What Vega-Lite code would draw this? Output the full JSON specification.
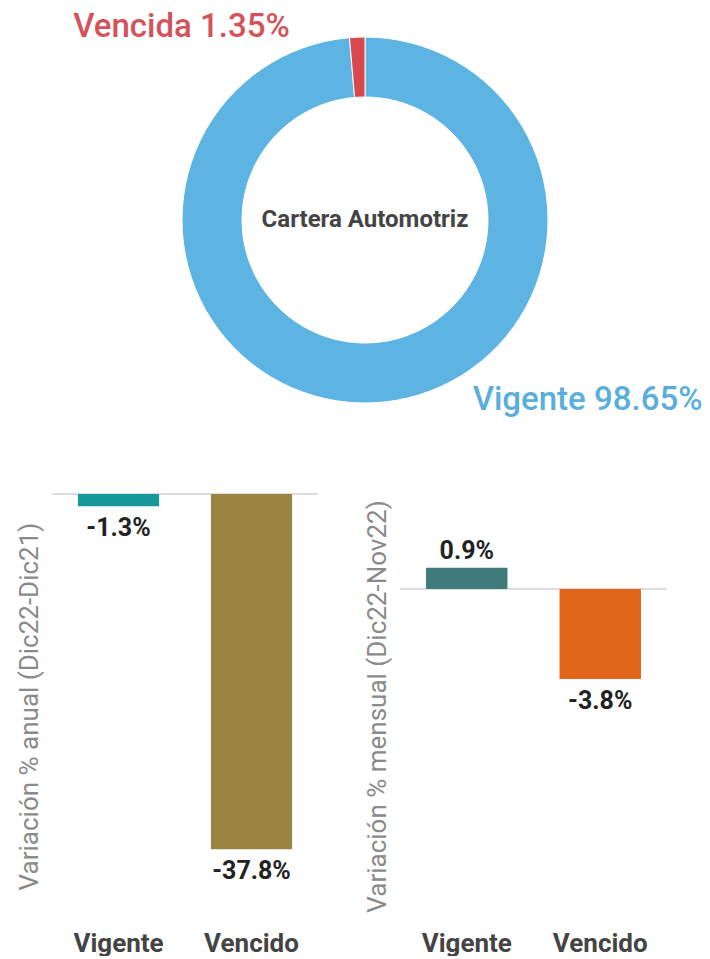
{
  "$schema": "https://vega.github.io/schema/vega-lite/v6.json",
  "padding": {"left": 16, "top": 0, "right": 0, "bottom": 0},
  "background": "white",
  "config": {"font": "Roboto", "view": {"stroke": null}},
  "datasets": {
    "cartera": [
      {"categoria": "Vigente", "porcentaje": 98.65, "orden": 1, "etiqueta": "Vigente 98.65%"},
      {"categoria": "Vencida", "porcentaje": 1.35, "orden": 2, "etiqueta": "Vencida 1.35%"}
    ],
    "anual": [
      {"tipo": "Vigente", "variacion": -1.3, "etiqueta": "-1.3%"},
      {"tipo": "Vencido", "variacion": -37.8, "etiqueta": "-37.8%"}
    ],
    "mensual": [
      {"tipo": "Vigente", "variacion": 0.9, "etiqueta": "0.9%"},
      {"tipo": "Vencido", "variacion": -3.8, "etiqueta": "-3.8%"}
    ]
  },
  "spacing": 53,
  "vconcat": [
    {
      "width": 626,
      "height": 440,
      "data": {"name": "cartera"},
      "encoding": {
        "theta": {"field": "porcentaje", "type": "quantitative", "stack": true},
        "order": {"field": "orden", "type": "quantitative"}
      },
      "layer": [
        {
          "mark": {"type": "arc", "outerRadius": 183, "innerRadius": 123, "stroke": "white", "strokeWidth": 1},
          "encoding": {
            "color": {"field": "categoria", "type": "nominal", "scale": {"domain": ["Vigente", "Vencida"], "range": ["#5db4e2", "#d9484f"]}, "legend": null}
          }
        },
        {
          "mark": {"type": "text", "radius": 193, "align": "right", "baseline": "middle", "dx": -67, "fontSize": 33, "fontWeight": 500, "color": "#d4535b"},
          "encoding": {
            "text": {"field": "etiqueta"},
            "opacity": {"condition": {"test": "datum.categoria === 'Vencida'", "value": 1}, "value": 0}
          }
        },
        {
          "mark": {"type": "text", "radius": 180, "align": "left", "baseline": "middle", "dx": 100, "fontSize": 33, "fontWeight": 500, "color": "#5aaedb"},
          "encoding": {
            "text": {"field": "etiqueta"},
            "opacity": {"condition": {"test": "datum.categoria === 'Vigente'", "value": 1}, "value": 0}
          }
        },
        {
          "data": {"values": [{"titulo": "Cartera Automotriz"}]},
          "mark": {"type": "text", "align": "center", "baseline": "middle", "fontSize": 24, "fontWeight": "bold", "color": "#444444"},
          "encoding": {"text": {"field": "titulo"}, "theta": null, "order": null}
        }
      ]
    },
    {
      "spacing": 45,
      "hconcat": [
        {
          "width": 266,
          "height": 424,
          "data": {"name": "anual"},
          "encoding": {
            "x": {"field": "tipo", "type": "nominal", "sort": ["Vigente", "Vencido"],
              "scale": {"paddingInner": 0.39, "paddingOuter": 0.195},
              "axis": {"title": null, "labelAngle": 0, "labelFontSize": 26, "labelFontWeight": "bold", "labelColor": "#444444", "ticks": false, "domain": false, "labelPadding": 12}}
          },
          "layer": [
            {
              "mark": {"type": "rule", "color": "#d3d3d3", "strokeWidth": 1},
              "encoding": {"y": {"datum": 0, "type": "quantitative"}, "x": null}
            },
            {
              "mark": {"type": "bar"},
              "encoding": {
                "y": {"field": "variacion", "type": "quantitative", "scale": {"domain": [-45.1, 0], "nice": false, "zero": false},
                  "axis": {"title": "Variación % anual (Dic22-Dic21)", "titleFontSize": 26, "titleFontWeight": "normal", "titleColor": "#8a8a8a", "labels": false, "ticks": false, "domain": false, "grid": false, "titlePadding": 10}},
                "color": {"condition": {"test": "datum.tipo === 'Vigente'", "value": "#17999b"}, "value": "#9a8441"}
              }
            },
            {
              "transform": [{"filter": "datum.variacion < 0"}],
              "mark": {"type": "text", "baseline": "middle", "dy": 22, "fontSize": 25, "fontWeight": "bold", "color": "#222222"},
              "encoding": {"y": {"field": "variacion", "type": "quantitative"}, "text": {"field": "etiqueta"}}
            }
          ]
        },
        {
          "width": 267,
          "height": 424,
          "data": {"name": "mensual"},
          "encoding": {
            "x": {"field": "tipo", "type": "nominal", "sort": ["Vigente", "Vencido"],
              "scale": {"paddingInner": 0.39, "paddingOuter": 0.195},
              "axis": {"title": null, "labelAngle": 0, "labelFontSize": 26, "labelFontWeight": "bold", "labelColor": "#444444", "ticks": false, "domain": false, "labelPadding": 12}}
          },
          "layer": [
            {
              "mark": {"type": "rule", "color": "#d3d3d3", "strokeWidth": 1},
              "encoding": {"y": {"datum": 0, "type": "quantitative"}, "x": null}
            },
            {
              "mark": {"type": "bar"},
              "encoding": {
                "y": {"field": "variacion", "type": "quantitative", "scale": {"domain": [-13.9, 4.01], "nice": false, "zero": false},
                  "axis": {"title": "Variación % mensual (Dic22-Nov22)", "titleFontSize": 26, "titleFontWeight": "normal", "titleColor": "#8a8a8a", "labels": false, "ticks": false, "domain": false, "grid": false, "titlePadding": 10}},
                "color": {"condition": {"test": "datum.tipo === 'Vigente'", "value": "#3f7b7a"}, "value": "#e1661b"}
              }
            },
            {
              "transform": [{"filter": "datum.variacion < 0"}],
              "mark": {"type": "text", "baseline": "middle", "dy": 22, "fontSize": 25, "fontWeight": "bold", "color": "#222222"},
              "encoding": {"y": {"field": "variacion", "type": "quantitative"}, "text": {"field": "etiqueta"}}
            },
            {
              "transform": [{"filter": "datum.variacion >= 0"}],
              "mark": {"type": "text", "baseline": "middle", "dy": -17, "fontSize": 25, "fontWeight": "bold", "color": "#222222"},
              "encoding": {"y": {"field": "variacion", "type": "quantitative"}, "text": {"field": "etiqueta"}}
            }
          ]
        }
      ]
    }
  ]
}
